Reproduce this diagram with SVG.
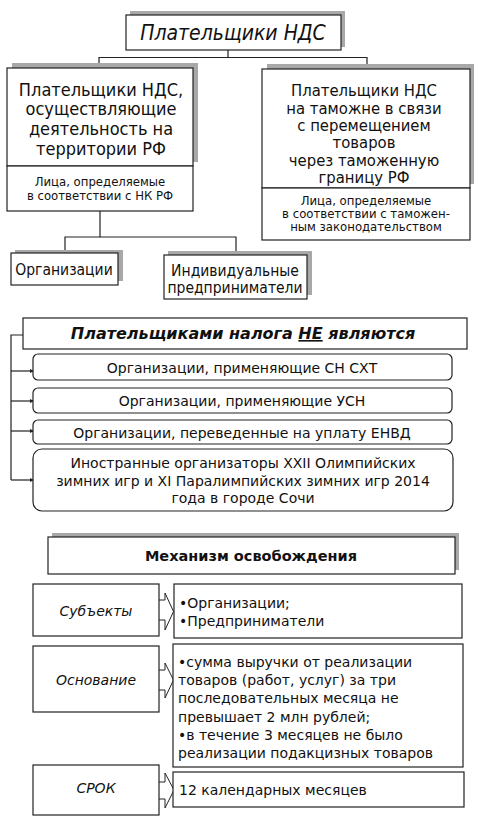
<svg xmlns="http://www.w3.org/2000/svg" width="477" height="819" viewBox="0 0 477 819">
<style>
text{font-family:"DejaVu Sans","Verdana",sans-serif;fill:#111;text-anchor:middle}
.c{font-family:"DejaVu Sans Condensed","DejaVu Sans",sans-serif;font-stretch:condensed}
.box{fill:#fff;stroke:#222;stroke-width:1.2}
.sh{fill:#a8a8a8}
.ln{fill:none;stroke:#222;stroke-width:1.2}
.t17{font-size:18px}
.t17r{font-size:16.5px}
.t12{font-size:13px}
.t15{font-size:15.5px}
.t14{font-size:14px}
.it{font-style:italic}
.l{text-anchor:start}
.arr{fill:#fff;stroke:#222;stroke-width:1}
</style>
<defs>
<marker id="ah" markerWidth="4" markerHeight="4" refX="3" refY="2" orient="auto" markerUnits="userSpaceOnUse">
<path d="M0,0 L4,2 L0,4 Z" fill="#222"/>
</marker>
</defs>
<rect width="477" height="819" fill="#fff"/>

<g id="connectors">
<path class="ln" d="M228,50 V57.5 H367 V68" marker-end="url(#ah)"/>
<path class="ln" d="M228,57.5 H99 V68" marker-end="url(#ah)"/>
<path class="ln" d="M100,211 V237 H65 V253" marker-end="url(#ah)"/>
<path class="ln" d="M100,237 H236 V255" marker-end="url(#ah)"/>
<path class="ln" d="M23,335 H11 V480"/>
<path class="ln" d="M11,371 H33" marker-end="url(#ah)"/>
<path class="ln" d="M11,401 H33" marker-end="url(#ah)"/>
<path class="ln" d="M11,431 H33" marker-end="url(#ah)"/>
<path class="ln" d="M11,480 H33" marker-end="url(#ah)"/>
<path class="arr" d="M159,600 H165 V593 L173.5,611.5 L165,630 V620 H159"/>
<path class="arr" d="M159,670 H165 V663 L173.5,680 L165,698 V690 H159"/>
<path class="arr" d="M159,782 H165 V773 L174,790 L165,808 V799 H159"/>
</g>

<g id="title">
<rect class="sh" x="130" y="11" width="215" height="36"/>
<rect class="box" x="126" y="15" width="215" height="35"/>
<text x="233" y="40" class="it c" style="font-size:21px">Плательщики НДС</text>
</g>

<g id="payers-rf">
<rect class="sh" x="12" y="63" width="186" height="99"/>
<rect class="box" x="7" y="68" width="186" height="98"/>
<text class="t17 c" x="101" y="96">Плательщики НДС,</text>
<text class="t17 c" x="101" y="115">осуществляющие</text>
<text class="t17 c" x="101" y="135">деятельность на</text>
<text class="t17 c" x="101" y="155">территории РФ</text>
<rect class="box" x="7" y="166" width="186" height="45"/>
<text class="t12 c" x="100" y="186">Лица, определяемые</text>
<text class="t12 c" x="100" y="200">в соответствии с НК РФ</text>
</g>

<g id="payers-customs">
<rect class="sh" x="267" y="64" width="207" height="120"/>
<rect class="box" x="262" y="69" width="208" height="119"/>
<text class="t17r c" x="364" y="96">Плательщики НДС</text>
<text class="t17r c" x="364" y="113.5">на таможне в связи</text>
<text class="t17r c" x="364" y="131">с перемещением</text>
<text class="t17r c" x="364" y="148">товаров</text>
<text class="t17r c" x="364" y="165.5">через таможенную</text>
<text class="t17r c" x="364" y="183">границу РФ</text>
<rect class="box" x="262" y="188" width="208" height="52"/>
<text class="t12 c" x="366" y="205">Лица, определяемые</text>
<text class="t12 c" x="366" y="218">в соответствии с таможен-</text>
<text class="t12 c" x="366" y="231">ным законодательством</text>
</g>

<g id="org">
<rect class="sh" x="15" y="250" width="108" height="31"/>
<rect class="box" x="11" y="253" width="107" height="32"/>
<text class="t15 c" x="64" y="275">Организации</text>
</g>

<g id="ip">
<rect class="sh" x="168" y="251" width="144" height="44"/>
<rect class="box" x="164" y="255" width="143" height="44"/>
<text class="t15 c" x="235" y="276">Индивидуальные</text>
<text class="t15 c" x="235" y="293">предприниматели</text>
</g>

<g id="not-payers">
<rect class="box" x="23" y="318" width="444" height="31"/>
<text x="243" y="339" style="font-size:16px;font-weight:bold;font-style:italic">Плательщиками налога <tspan text-decoration="underline">НЕ</tspan> являются</text>
</g>

<g id="np1">
<rect class="box" x="33" y="354" width="419" height="26" rx="5"/>
<text class="t14" x="242" y="373">Организации, применяющие СН СХТ</text>
</g>
<g id="np2">
<rect class="box" x="33" y="388" width="419" height="25" rx="5"/>
<text class="t14" x="242" y="406">Организации, применяющие УСН</text>
</g>
<g id="np3">
<rect class="box" x="33" y="420" width="419" height="24" rx="5"/>
<text class="t14" x="242" y="438">Организации, переведенные на уплату ЕНВД</text>
</g>
<g id="np4">
<rect class="box" x="33" y="449" width="420" height="62" rx="9"/>
<text class="t14" x="243" y="468">Иностранные организаторы XXII Олимпийских</text>
<text class="t14" x="243" y="486">зимних игр и XI Паралимпийских зимних игр 2014</text>
<text class="t14" x="243" y="503">года в городе Сочи</text>
</g>

<g id="mechanism">
<rect class="sh" x="52" y="533" width="407" height="37"/>
<rect class="box" x="48" y="537" width="407" height="37"/>
<text x="251" y="561" style="font-size:14.5px;font-weight:bold">Механизм освобождения</text>
</g>

<g id="subjects">
<rect class="box" x="33" y="584" width="126" height="52"/>
<text class="t14 it" x="96" y="616">Субъекты</text>
</g>
<g id="subjects-val">
<rect class="box" x="174" y="584" width="288" height="54"/>
<text class="t14 l" x="179" y="608">•Организации;</text>
<text class="t14 l" x="179" y="626">•Предприниматели</text>
</g>

<g id="basis">
<rect class="box" x="33" y="646" width="126" height="66"/>
<text class="t14 it" x="96" y="685">Основание</text>
</g>
<g id="basis-val">
<rect class="box" x="173" y="644" width="290" height="123"/>
<text class="t14 l" x="178" y="667">•сумма выручки от реализации</text>
<text class="t14 l" x="178" y="685">товаров (работ, услуг) за три</text>
<text class="t14 l" x="178" y="703">последовательных месяца не</text>
<text class="t14 l" x="178" y="722">превышает 2 млн рублей;</text>
<text class="t14 l" x="178" y="740">•в течение 3 месяцев не было</text>
<text class="t14 l" x="178" y="758">реализации подакцизных товаров</text>
</g>

<g id="term">
<rect class="box" x="33" y="765" width="126" height="50"/>
<text class="t14 it" x="96" y="793">СРОК</text>
</g>
<g id="term-val">
<rect class="box" x="173" y="772" width="291" height="35"/>
<text class="t14 l" x="179" y="795">12 календарных месяцев</text>
</g>
</svg>
